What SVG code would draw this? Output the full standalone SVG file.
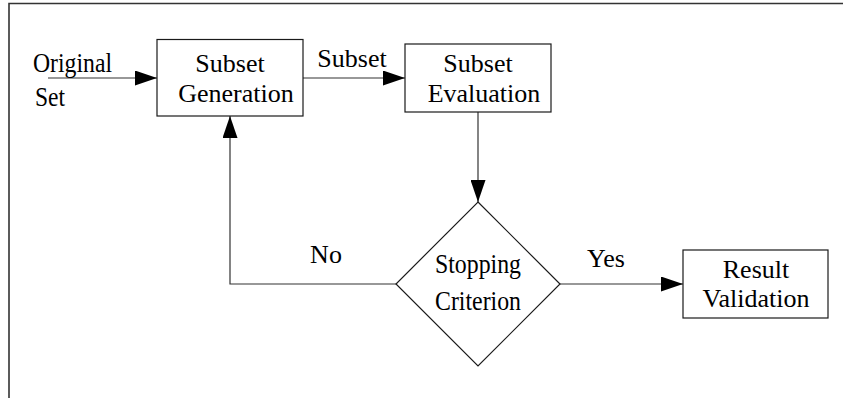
<svg xmlns="http://www.w3.org/2000/svg" width="843" height="398" viewBox="0 0 843 398">
<style>
.box{fill:#fff;stroke:#1a1a1a;stroke-width:1.2}
.t{font-family:'Liberation Serif',serif;font-size:26px;fill:#000;text-anchor:middle}
.lt{font-family:'Liberation Serif',serif;font-size:28px;fill:#000}
.c{fill:none;stroke:#333;stroke-width:1.2}
.frame{fill:none;stroke:#333;stroke-width:1.6}
</style>
<defs>
<marker id="ah" viewBox="0 0 22 15" refX="22" refY="7.5" markerWidth="22" markerHeight="15" markerUnits="userSpaceOnUse" orient="auto">
<path d="M0,0 L22,7.5 L0,15 z" fill="#000"/>
</marker>
</defs>
<path class="frame" d="M9,398 V3.5 H843"/>
<g id="connectors">
<line class="c" x1="48" y1="78" x2="157" y2="78" marker-end="url(#ah)"/>
<line class="c" x1="303" y1="78" x2="405" y2="78" marker-end="url(#ah)"/>
<line class="c" x1="478" y1="112" x2="478" y2="202" marker-end="url(#ah)"/>
<line class="c" x1="560" y1="284" x2="683" y2="284" marker-end="url(#ah)"/>
<polyline class="c" points="396,284 230,284 230,116" marker-end="url(#ah)"/>
<text class="t" x="352" y="67">Subset</text>
<text class="t" x="606" y="267">Yes</text>
<text class="t" x="326" y="263">No</text>
</g>
<g id="original-set">
<text class="lt" x="33" y="72" textLength="79" lengthAdjust="spacingAndGlyphs">Original</text>
<text class="lt" x="35" y="106" textLength="30" lengthAdjust="spacingAndGlyphs">Set</text>
</g>
<g id="subset-generation">
<rect class="box" x="157" y="39.5" width="146" height="76.5"/>
<text class="t" x="230" y="72">Subset</text>
<text class="t" x="236" y="102">Generation</text>
</g>
<g id="subset-evaluation">
<rect class="box" x="405" y="44" width="146" height="68"/>
<text class="t" x="478" y="72">Subset</text>
<text class="t" x="484" y="102">Evaluation</text>
</g>
<g id="stopping-criterion">
<polygon class="box" points="478,202 560,284 478,366 396,284"/>
<text class="t" x="478" y="273" style="font-size:27px" textLength="86" lengthAdjust="spacingAndGlyphs">Stopping</text>
<text class="t" x="478" y="310" style="font-size:27px" textLength="86" lengthAdjust="spacingAndGlyphs">Criterion</text>
</g>
<g id="result-validation">
<rect class="box" x="683" y="250" width="145" height="68"/>
<text class="t" x="756" y="278">Result</text>
<text class="t" x="756" y="307">Validation</text>
</g>
</svg>
